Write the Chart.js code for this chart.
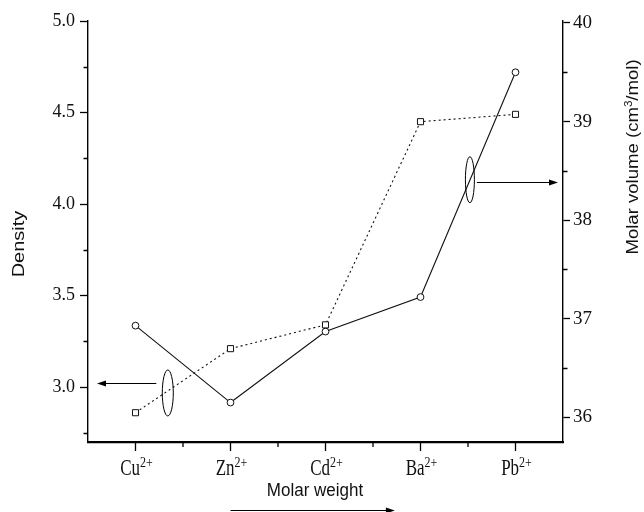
<!DOCTYPE html>
<html>
<head>
<meta charset="utf-8">
<script src="https://cdn.jsdelivr.net/npm/chart.js@4/dist/chart.umd.min.js"></script>
<style>
    body { margin: 0; background: #fff; }
</style>
</head>
<body>
<canvas id="chart" width="644" height="512"></canvas>
<script>
// ions along the x axis, all 2+
const ions = ["Cu", "Zn", "Cd", "Ba", "Pb"];
const charge = "2+";

// density (left axis, squares, dotted) and molar volume (right axis, circles, solid)
const density = [2.86, 3.21, 3.34, 4.45, 4.49];
const molarVolume = [36.93, 36.15, 36.87, 37.22, 39.5];

// tick values
const densityTicks = [3.0, 3.5, 4.0, 4.5, 5.0];
const densityMinor = [2.75, 3.25, 3.75, 4.25, 4.75];
const volumeTicks = [36, 37, 38, 39, 40];
const volumeMinor = [36.5, 37.5, 38.5, 39.5];

const serif = "'Liberation Serif', 'Times New Roman', serif";
const sans = "'Liberation Sans', Arial, sans-serif";

// draw text stretched along its own vertical direction (the figure is scanned tall)
function stretchedText(ctx, parts, x, y, angle, stretch, align) {
    ctx.save();
    ctx.translate(x, y);
    ctx.rotate(angle);
    ctx.scale(angle === 0 ? 1 : stretch, angle === 0 ? stretch : 1);
    ctx.textBaseline = "alphabetic";
    ctx.textAlign = "left";
    let total = 0;
    parts.forEach((p) => {
        ctx.font = p.font;
        p.w = ctx.measureText(p.text).width;
        total += p.w;
    });
    let cx = align === "center" ? -total / 2 : 0;
    parts.forEach((p) => {
        ctx.font = p.font;
        ctx.fillText(p.text, cx, -(p.rise || 0));
        cx += p.w;
    });
    ctx.restore();
}

function arrow(ctx, x1, y, x2) {
    const dir = x2 > x1 ? 1 : -1;
    ctx.beginPath();
    ctx.moveTo(x1, y);
    ctx.lineTo(x2 - dir * 6, y);
    ctx.stroke();
    ctx.beginPath();
    ctx.moveTo(x2, y);
    ctx.lineTo(x2 - dir * 9, y - 3);
    ctx.lineTo(x2 - dir * 9, y + 3);
    ctx.closePath();
    ctx.fill();
}

const decorations = {
    id: "decorations",
    beforeDraw(chart) {
        const ctx = chart.ctx;
        ctx.save();
        ctx.fillStyle = "#fff";
        ctx.fillRect(0, 0, chart.width, chart.height);
        ctx.restore();
    },
    afterDraw(chart) {
        const ctx = chart.ctx;
        const xs = chart.scales.x;
        const yl = chart.scales.y;
        const yr = chart.scales.y1;
        const area = chart.chartArea;
        ctx.save();
        ctx.strokeStyle = "#000";
        ctx.fillStyle = "#000";
        ctx.lineWidth = 1.3;

        // minor ticks on both y axes
        ctx.beginPath();
        densityMinor.forEach((v) => {
            const py = Math.round(yl.getPixelForValue(v)) + 0.5;
            ctx.moveTo(area.left, py);
            ctx.lineTo(area.left - 4.5, py);
        });
        volumeMinor.forEach((v) => {
            const py = Math.round(yr.getPixelForValue(v)) + 0.5;
            ctx.moveTo(area.right, py);
            ctx.lineTo(area.right + 4.5, py);
        });
        // x ticks: long at each ion, short in between
        ions.forEach((ion, i) => {
            const px = xs.getPixelForValue(i);
            ctx.moveTo(px, area.bottom);
            ctx.lineTo(px, area.bottom + 9);
            if (i < ions.length - 1) {
                const mx = xs.getPixelForValue(i + 0.5);
                ctx.moveTo(mx, area.bottom);
                ctx.lineTo(mx, area.bottom + 5);
            }
        });
        ctx.stroke();

        // x labels with superscript charge
        ctx.fillStyle = "#111";
        ions.forEach((ion, i) => {
            stretchedText(ctx, [
                { text: ion, font: "17px " + serif },
                { text: charge, font: "12px " + serif, rise: 6 },
            ], xs.getPixelForValue(i) + 1, 475, 0, 1.3, "center");
        });

        // axis titles
        stretchedText(ctx, [{ text: "Molar weight", font: "17px " + sans }],
            315, 496, 0, 1.1, "center");
        stretchedText(ctx, [{ text: "Density", font: "16px " + sans }],
            24, 244, -Math.PI / 2, 1.25, "center");
        stretchedText(ctx, [
            { text: "Molar volume (cm", font: "16px " + sans },
            { text: "3", font: "10px " + sans, rise: 6 },
            { text: "/mol)", font: "16px " + sans },
        ], 638, 157, -Math.PI / 2, 1.16, "center");

        // ellipse marking the density curve, arrow to left axis
        ctx.fillStyle = "#000";
        ctx.lineWidth = 1;
        const e1x = xs.getPixelForValue(0.34);
        const e1y = yl.getPixelForValue(2.968);
        ctx.beginPath();
        ctx.ellipse(e1x, e1y, 5.5, 23, 0, 0, Math.PI * 2);
        ctx.stroke();
        ctx.lineWidth = 1.2;
        arrow(ctx, e1x - 11.5, Math.round(yl.getPixelForValue(3.025)) + 0.5, area.left + 9);

        // ellipse marking the molar volume curve, arrow to right axis
        ctx.lineWidth = 1;
        const e2x = xs.getPixelForValue(3.52);
        const e2y = yr.getPixelForValue(38.41);
        ctx.beginPath();
        ctx.ellipse(e2x, e2y, 4.5, 23, 0, 0, Math.PI * 2);
        ctx.stroke();
        ctx.lineWidth = 1.2;
        arrow(ctx, e2x + 7, Math.round(yr.getPixelForValue(38.39)) + 0.5, area.right - 5);

        // increasing molar weight arrow under the axis
        arrow(ctx, xs.getPixelForValue(1), 510.5, xs.getPixelForValue(2.73));
        ctx.restore();
    },
};

new Chart(document.getElementById("chart"), {
    type: "line",
    data: {
        labels: ions,
        datasets: [
            {
                label: "Density",
                data: density,
                yAxisID: "y",
                borderColor: "#111",
                borderWidth: 1.1,
                borderDash: [2, 3],
                pointStyle: "rect",
                pointRadius: 4.3,
                pointBackgroundColor: "#fff",
                pointBorderColor: "#111",
                pointBorderWidth: 1,
                tension: 0,
            },
            {
                label: "Molar volume",
                data: molarVolume,
                yAxisID: "y1",
                borderColor: "#111",
                borderWidth: 1.1,
                pointStyle: "circle",
                pointRadius: 3.4,
                pointBackgroundColor: "#fff",
                pointBorderColor: "#111",
                pointBorderWidth: 1,
                tension: 0,
            },
        ],
    },
    options: {
        responsive: false,
        animation: false,
        layout: { padding: { top: 21, left: 0, right: 0, bottom: 0 } },
        plugins: { legend: { display: false }, tooltip: { enabled: false } },
        scales: {
            x: {
                type: "category",
                offset: true,
                grid: { display: false },
                ticks: { display: false },
                border: { display: true, color: "#000", width: 2.2 },
                afterFit: (s) => { s.height = 70; },
            },
            y: {
                position: "left",
                min: 2.7,
                max: 5.0,
                afterBuildTicks: (s) => { s.ticks = densityTicks.map((v) => ({ value: v })); },
                ticks: {
                    padding: 5,
                    color: "#111",
                    font: { family: serif, size: 18 },
                    callback: (v) => Number(v).toFixed(1),
                },
                grid: { drawOnChartArea: false, drawTicks: true, tickLength: 8, tickColor: "#000", tickWidth: 1.3 },
                border: { display: true, color: "#000", width: 1.4 },
                afterFit: (s) => { s.width = 88; },
            },
            y1: {
                position: "right",
                min: 35.75,
                max: 40.02,
                afterBuildTicks: (s) => { s.ticks = volumeTicks.map((v) => ({ value: v })); },
                ticks: {
                    padding: 3,
                    color: "#111",
                    font: { family: serif, size: 19 },
                    callback: (v) => String(v),
                },
                grid: { drawOnChartArea: false, drawTicks: true, tickLength: 7, tickColor: "#000", tickWidth: 1.3 },
                border: { display: true, color: "#000", width: 1.4 },
                afterFit: (s) => { s.width = 81; },
            },
        },
    },
    plugins: [decorations],
});
</script>
</body>
</html>
